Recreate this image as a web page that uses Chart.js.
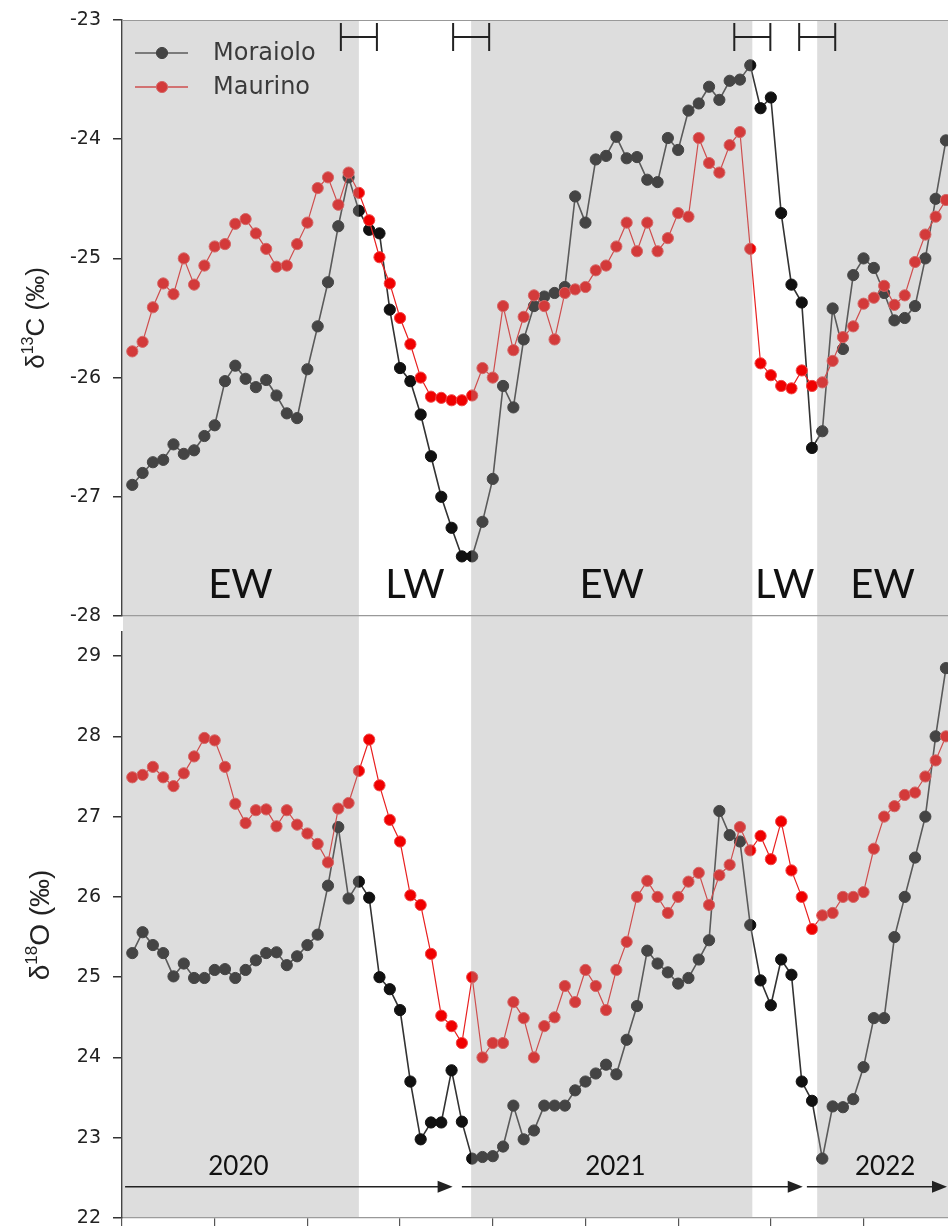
<!DOCTYPE html>
<html>
<head>
<meta charset="utf-8">
<script src="https://cdn.jsdelivr.net/npm/chart.js@4.4.1/dist/chart.umd.min.js"></script>
<style>
  html, body { margin: 0; padding: 0; background: #fff; }
  #wrap { position: relative; width: 948px; height: 1226px; overflow: hidden; }
  .box { position: absolute; left: 0; width: 948px; }
  #top { top: 0; height: 624px; }
  #bot { top: 624px; height: 602px; }
</style>
</head>
<body>
<div id="wrap">
  <div class="box" id="top"><canvas id="c13"></canvas></div>
  <div class="box" id="bot"><canvas id="c18"></canvas></div>
</div>
<script>
// sample position along the ring (intra-ring sample number)
const positions = Array.from({ length: 80 }, (_, i) => i);

const moraiolo13C = [
  -26.90, -26.80, -26.71, -26.69, -26.56, -26.64, -26.61, -26.49, -26.40, -26.03,
  -25.90, -26.01, -26.08, -26.02, -26.15, -26.30, -26.34, -25.93, -25.57, -25.20,
  -24.73, -24.32, -24.60, -24.76, -24.79, -25.43, -25.92, -26.03, -26.31, -26.66,
  -27.00, -27.26, -27.50, -27.50, -27.21, -26.85, -26.07, -26.25, -25.68, -25.40,
  -25.32, -25.29, -25.24, -24.48, -24.70, -24.17, -24.14, -23.98, -24.16, -24.15,
  -24.34, -24.36, -23.99, -24.09, -23.76, -23.70, -23.56, -23.67, -23.51, -23.50,
  -23.38, -23.74, -23.65, -24.62, -25.22, -25.37, -26.59, -26.45, -25.42, -25.76,
  -25.14, -25.00, -25.08, -25.29, -25.52, -25.50, -25.40, -25.00, -24.50, -24.01
];
const maurino13C = [
  -25.78, -25.70, -25.41, -25.21, -25.30, -25.00, -25.22, -25.06, -24.90, -24.88,
  -24.71, -24.67, -24.79, -24.92, -25.07, -25.06, -24.88, -24.70, -24.41, -24.32,
  -24.55, -24.28, -24.45, -24.68, -24.99, -25.21, -25.50, -25.72, -26.00, -26.16,
  -26.17, -26.19, -26.19, -26.15, -25.92, -26.00, -25.40, -25.77, -25.49, -25.31,
  -25.40, -25.68, -25.29, -25.26, -25.24, -25.10, -25.06, -24.90, -24.70, -24.94,
  -24.70, -24.94, -24.83, -24.62, -24.65, -23.99, -24.20, -24.28, -24.05, -23.94,
  -24.92, -25.88, -25.98, -26.07, -26.09, -25.94, -26.07, -26.04, -25.86, -25.66,
  -25.57, -25.38, -25.33, -25.23, -25.39, -25.31, -25.03, -24.80, -24.65, -24.51
];
const moraiolo18O = [
  25.30, 25.56, 25.40, 25.30, 25.01, 25.17, 24.99, 24.99, 25.09, 25.10,
  24.99, 25.09, 25.21, 25.30, 25.31, 25.15, 25.26, 25.40, 25.53, 26.14,
  26.87, 25.98, 26.19, 25.99, 25.00, 24.85, 24.59, 23.70, 22.98, 23.19,
  23.19, 23.84, 23.20, 22.74, 22.76, 22.77, 22.89, 23.40, 22.98, 23.09,
  23.40, 23.40, 23.40, 23.59, 23.70, 23.80, 23.91, 23.79, 24.22, 24.64,
  25.33, 25.17, 25.06, 24.92, 24.99, 25.22, 25.46, 27.07, 26.77, 26.69,
  25.65, 24.96, 24.65, 25.22, 25.03, 23.70, 23.46, 22.74, 23.39, 23.38,
  23.48, 23.88, 24.49, 24.49, 25.50, 26.00, 26.49, 27.00, 28.00, 28.85
];
const maurino18O = [
  27.49, 27.52, 27.62, 27.49, 27.38, 27.54, 27.75, 27.98, 27.95, 27.62,
  27.16, 26.92, 27.08, 27.09, 26.88, 27.08, 26.90, 26.79, 26.66, 26.43,
  27.10, 27.17, 27.57, 27.96, 27.39, 26.96, 26.69, 26.02, 25.90, 25.29,
  24.52, 24.39, 24.18, 25.00, 24.00, 24.18, 24.18, 24.69, 24.49, 24.00,
  24.39, 24.50, 24.89, 24.69, 25.09, 24.89, 24.59, 25.09, 25.44, 26.00,
  26.20, 26.00, 25.80, 26.00, 26.19, 26.30, 25.90, 26.27, 26.40, 26.87,
  26.58, 26.76, 26.47, 26.94, 26.33, 26.00, 25.60, 25.77, 25.80, 26.00,
  26.00, 26.06, 26.60, 27.00, 27.13, 27.27, 27.30, 27.50, 27.70, 28.00
];

// earlywood / latewood zones and their boundaries (sample position units)
const zoneLabels = ["EW", "LW", "EW", "LW", "EW"];
const zoneEdges = [-1, 22.0, 32.9, 60.2, 66.5, 80];
const edgeError = 1.75;

// growth years along the bottom
const years = ["2020", "2021", "2022"];
const yearStart = [-0.7, 32.0, 65.5];
const yearEnd = [31.1, 65.1, 80];
const yearLabelAt = [10.3, 46.9, 73.1];

const xTicks = [-1, 8, 17, 26, 35, 44, 53, 62, 71];

const BLACK = "#111111";
const RED = "#f00000";

function series(label, data, color, line, lineW, edge) {
  return {
    label: label,
    data: data.map((v, i) => ({ x: positions[i], y: v })),
    borderColor: line,
    borderWidth: lineW,
    backgroundColor: color,
    pointBackgroundColor: color,
    pointBorderColor: edge,
    pointBorderWidth: 1,
    pointRadius: 5.6,
    tension: 0
  };
}

function drawBands(chart, y0, y1) {
  const { ctx, chartArea: a, scales: { x } } = chart;
  ctx.save();
  ctx.fillStyle = "rgba(162,162,162,0.36)";
  for (let k = 0; k < zoneLabels.length; k++) {
    if (zoneLabels[k] !== "EW") continue;
    const l = Math.max(a.left + 1, x.getPixelForValue(zoneEdges[k]));
    const r = Math.min(chart.width, x.getPixelForValue(zoneEdges[k + 1]));
    ctx.fillRect(l, y0, r - l, y1 - y0);
  }
  ctx.restore();
}

function drawAxisTitle(chart, base, sup, rest, cx, size) {
  const { ctx, chartArea: a } = chart;
  const fam = '"Liberation Sans", Arial, sans-serif';
  const big = size + "px " + fam;
  const small = Math.round(size * 0.62) + "px " + fam;
  ctx.save();
  ctx.fillStyle = "#222";
  ctx.font = big;
  const w1 = ctx.measureText(base).width;
  const w3 = ctx.measureText(rest).width;
  ctx.font = small;
  const w2 = ctx.measureText(sup).width;
  ctx.translate(cx, (a.top + a.bottom) / 2);
  ctx.rotate(-Math.PI / 2);
  ctx.textAlign = "left";
  ctx.textBaseline = "alphabetic";
  let u = -(w1 + w2 + w3) / 2;
  ctx.font = big;
  ctx.fillText(base, u, 0);
  u += w1;
  ctx.font = small;
  ctx.fillText(sup, u, -size * 0.42);
  u += w2;
  ctx.font = big;
  ctx.fillText(rest, u, 0);
  ctx.restore();
}

const topDecor = {
  id: "topDecor",
  beforeDatasetsDraw(chart) {
    // legend sits inside the plot, under the grey tint
    const { ctx, chartArea: a } = chart;
    const rows = [
      { name: "Moraiolo", fill: BLACK, line: "#333", edge: BLACK },
      { name: "Maurino", fill: RED, line: "#e82020", edge: "#f04646" }
    ];
    ctx.save();
    rows.forEach((r, k) => {
      const yy = a.top + 33 + k * 34;
      ctx.strokeStyle = r.line;
      ctx.lineWidth = 1.6;
      ctx.beginPath();
      ctx.moveTo(a.left + 13, yy);
      ctx.lineTo(a.left + 66, yy);
      ctx.stroke();
      ctx.fillStyle = r.fill;
      ctx.strokeStyle = r.edge;
      ctx.lineWidth = 1;
      ctx.beginPath();
      ctx.arc(a.left + 40, yy, 5.6, 0, Math.PI * 2);
      ctx.fill();
      ctx.stroke();
      ctx.fillStyle = "#000";
      ctx.font = '24px "DejaVu Sans", sans-serif';
      ctx.textBaseline = "middle";
      ctx.fillText(r.name, a.left + 91, yy + 1);
    });
    ctx.restore();
  },
  afterDatasetsDraw(chart) {
    const { ctx, chartArea: a, scales: { x } } = chart;
    drawBands(chart, a.top, chart.height);
    ctx.save();
    // frame line along the top
    ctx.strokeStyle = "#999";
    ctx.lineWidth = 1.2;
    ctx.beginPath();
    ctx.moveTo(a.left, a.top + 0.5);
    ctx.lineTo(a.right, a.top + 0.5);
    ctx.stroke();
    // boundary uncertainty brackets
    ctx.strokeStyle = "#222";
    ctx.lineWidth = 2;
    zoneEdges.slice(1, -1).forEach(e => {
      const l = x.getPixelForValue(e - edgeError);
      const r = x.getPixelForValue(e + edgeError);
      ctx.beginPath();
      ctx.moveTo(l, a.top + 3); ctx.lineTo(l, a.top + 31);
      ctx.moveTo(r, a.top + 3); ctx.lineTo(r, a.top + 31);
      ctx.moveTo(l, a.top + 17); ctx.lineTo(r, a.top + 17);
      ctx.stroke();
    });
    // EW / LW labels
    ctx.fillStyle = "#111";
    ctx.font = '40px Lato, "Open Sans", sans-serif';
    ctx.textAlign = "center";
    ctx.textBaseline = "alphabetic";
    zoneLabels.forEach((t, k) => {
      const l = Math.max(a.left, x.getPixelForValue(zoneEdges[k]));
      const r = Math.min(a.right, x.getPixelForValue(zoneEdges[k + 1]));
      ctx.fillText(t, (l + r) / 2, a.bottom - 18);
    });
    ctx.restore();
  },
  afterDraw(chart) {
    drawAxisTitle(chart, "\u03b4", "13", "C (\u2030)", 44, 26);
  }
};

const botDecor = {
  id: "botDecor",
  afterDatasetsDraw(chart) {
    const { ctx, chartArea: a, scales: { x, y } } = chart;
    drawBands(chart, 0, a.bottom);
    ctx.save();
    const yA = y.getPixelForValue(22.39);
    ctx.strokeStyle = "#222";
    ctx.fillStyle = "#222";
    ctx.lineWidth = 1.5;
    years.forEach((yr, k) => {
      const xs = x.getPixelForValue(yearStart[k]);
      const xe = Math.min(a.right - 1, x.getPixelForValue(yearEnd[k]));
      ctx.beginPath();
      ctx.moveTo(xs, yA);
      ctx.lineTo(xe - 12, yA);
      ctx.stroke();
      ctx.beginPath();
      ctx.moveTo(xe - 15, yA - 6);
      ctx.lineTo(xe, yA);
      ctx.lineTo(xe - 15, yA + 6);
      ctx.closePath();
      ctx.fill();
    });
    ctx.fillStyle = "#111";
    ctx.font = '26px Lato, "Open Sans", sans-serif';
    ctx.textAlign = "center";
    ctx.textBaseline = "alphabetic";
    const yT = y.getPixelForValue(22.54);
    years.forEach((yr, k) => {
      ctx.fillText(yr, x.getPixelForValue(yearLabelAt[k]), yT);
    });
    ctx.restore();
  },
  afterDraw(chart) {
    drawAxisTitle(chart, "\u03b4", "18", "O (\u2030)", 49, 28);
  }
};

function yAxis(min, max) {
  return {
    type: "linear",
    min: min,
    max: max,
    afterFit: s => {
      s.width = 122;
      s.paddingTop = 0;
      s.paddingBottom = 0;
    },
    afterBuildTicks: s => { s.ticks = s.ticks.filter(t => Number.isInteger(t.value)); },
    ticks: {
      stepSize: 1,
      padding: 12,
      color: "#222",
      font: { family: '"DejaVu Sans", sans-serif', size: 19 }
    },
    grid: { drawOnChartArea: false, drawTicks: true, tickLength: 9, color: "#333", lineWidth: 1.5 },
    border: { display: true, color: "#444", width: 1.5 }
  };
}

function xAxis(showTicks) {
  return {
    type: "linear",
    min: -1,
    max: 79.2,
    afterBuildTicks: s => { s.ticks = xTicks.map(v => ({ value: v })); },
    afterFit: s => {
      s.height = 8;
      s.paddingLeft = 0;
      s.paddingRight = 0;
    },
    ticks: { display: false },
    grid: { display: showTicks, drawOnChartArea: false, drawTicks: true, tickLength: 8, color: "#555", lineWidth: 1.2 },
    border: { display: true, color: "#999", width: 1.2 }
  };
}

function baseOptions(yMin, yMax, showXTicks, padTop) {
  return {
    responsive: true,
    maintainAspectRatio: false,
    devicePixelRatio: 1,
    animation: false,
    layout: { autoPadding: false, padding: { top: padTop, left: 0, right: 0, bottom: 0 } },
    plugins: { legend: { display: false }, tooltip: { enabled: false } },
    scales: { x: xAxis(showXTicks), y: yAxis(yMin, yMax) }
  };
}

new Chart(document.getElementById("c13"), {
  type: "line",
  data: {
    datasets: [
      series("Maurino", maurino13C, RED, "#e82020", 1.2, "#f04646"),
      series("Moraiolo", moraiolo13C, BLACK, "#333", 1.6, BLACK)
    ]
  },
  options: baseOptions(-28, -23, false, 20),
  plugins: [topDecor]
});

new Chart(document.getElementById("c18"), {
  type: "line",
  data: {
    datasets: [
      series("Maurino", maurino18O, RED, "#e82020", 1.2, "#f04646"),
      series("Moraiolo", moraiolo18O, BLACK, "#333", 1.6, BLACK)
    ]
  },
  options: baseOptions(22, 29.3, true, 8),
  plugins: [botDecor]
});
</script>
</body>
</html>
